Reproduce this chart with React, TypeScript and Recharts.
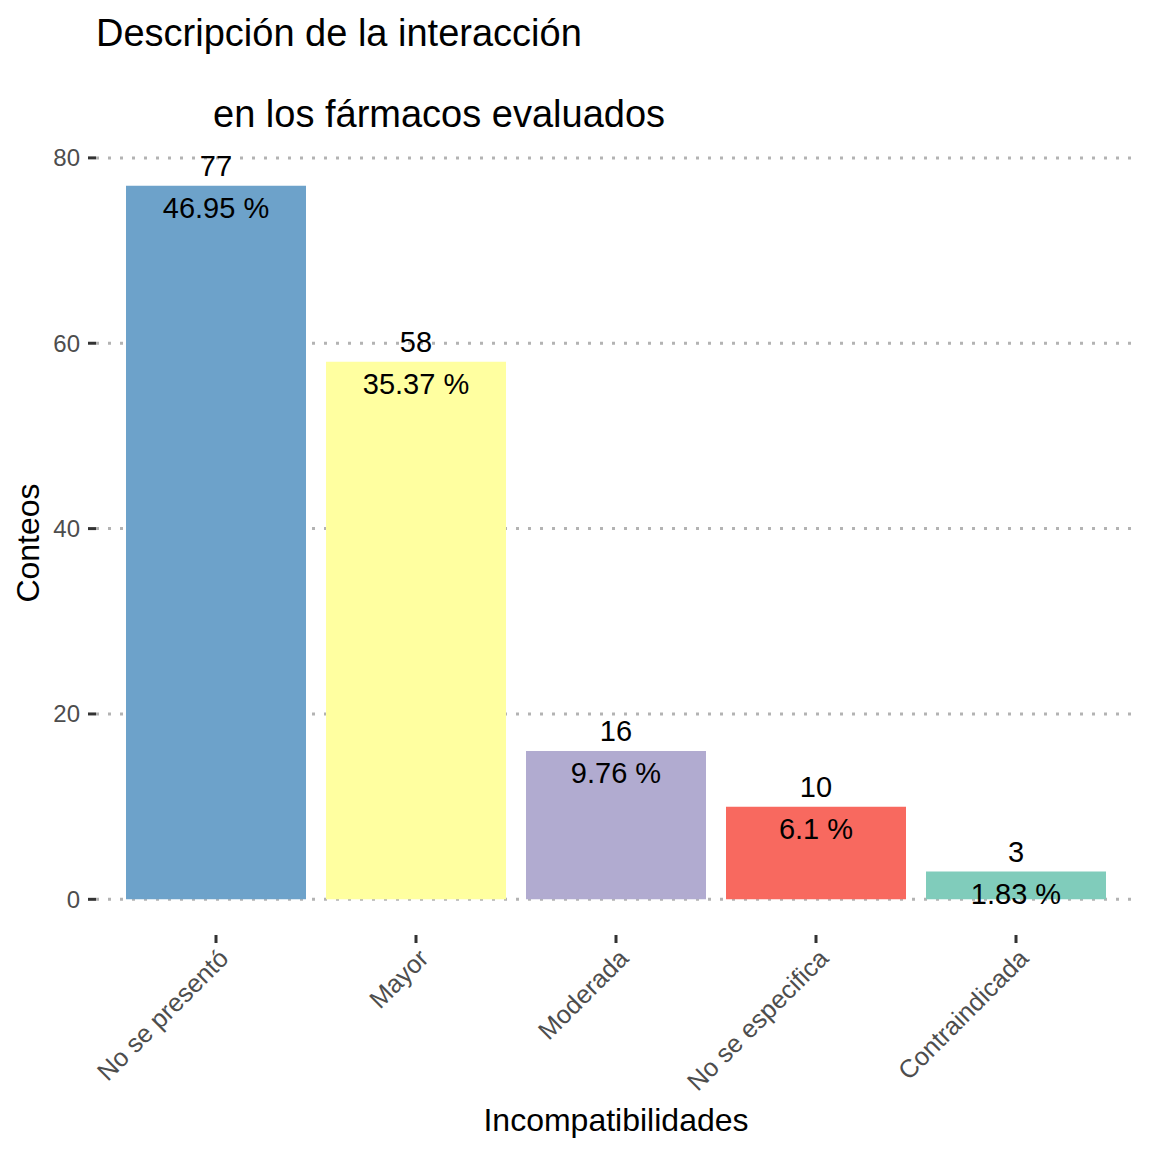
import React from "react";
import { BarChart, Bar, XAxis, YAxis, CartesianGrid, Cell, LabelList } from "recharts";

const categories = ["No se presentó", "Mayor", "Moderada", "No se especifica", "Contraindicada"];
const counts = [77, 58, 16, 10, 3];
const percents = ["46.95", "35.37", "9.76", "6.1", "1.83"];
const colors = ["#6DA2CA", "#FFFFA0", "#B1ABD0", "#F8695F", "#80CCBB"];
const yTicks = [0, 20, 40, 60, 80];

const data = categories.map((name, i) => ({ name, count: counts[i], pct: percents[i] }));

const FONT = "'Liberation Sans', Arial, Helvetica, sans-serif";

const XTick = (props: any) => {
  const { x, y, payload } = props;
  const ax = x + 14;
  const ay = y + 15;
  return (
    <text
      x={ax}
      y={ay}
      textAnchor="end"
      fontSize={25.5}
      fill="#4D4D4D"
      fontFamily={FONT}
      transform={`rotate(-45, ${ax}, ${ay})`}
    >
      {payload.value}
    </text>
  );
};

const BarLabels = (props: any) => {
  const { x, y, width, value, index } = props;
  const cx = x + width / 2;
  return (
    <g>
      <text x={cx} y={y - 10} textAnchor="middle" fontSize={29} fill="#000" fontFamily={FONT}>
        {value}
      </text>
      <text x={cx} y={y + 32} textAnchor="middle" fontSize={29} fill="#000" fontFamily={FONT}>
        {percents[index]} %
      </text>
    </g>
  );
};

export default function App() {
  return (
    <div style={{ position: "absolute", left: 0, top: 0, width: 1152, height: 1152, background: "#fff", fontFamily: FONT }}>
      <BarChart
        width={1152}
        height={1152}
        data={data}
        margin={{ top: 150, right: 16, left: 36, bottom: 67 }}
      >
        <CartesianGrid
          vertical={false}
          horizontal={true}
          horizontalValues={yTicks}
          stroke="#B3B3B3"
          strokeWidth={3}
          strokeDasharray="3 9"
        />
        <XAxis
          dataKey="name"
          interval={0}
          axisLine={false}
          tickLine={{ stroke: "#333333", strokeWidth: 3 }}
          tickSize={8}
          tickMargin={2}
          height={150}
          padding={{ left: 20, right: 20 }}
          tick={<XTick />}
        />
        <YAxis
          type="number"
          domain={[-3.85, 80.85]}
          ticks={yTicks}
          allowDataOverflow
          axisLine={false}
          tickLine={{ stroke: "#333333", strokeWidth: 3 }}
          tickSize={8}
          tickMargin={8}
          width={60}
          tick={{ fontSize: 24, fill: "#4D4D4D", fontFamily: FONT }}
        />
        <Bar dataKey="count" barSize={180} isAnimationActive={false}>
          {data.map((d, i) => (
            <Cell key={d.name} fill={colors[i]} />
          ))}
          <LabelList dataKey="count" content={<BarLabels />} />
        </Bar>
      </BarChart>
      <svg
        width={1152}
        height={1152}
        style={{ position: "absolute", left: 0, top: 0, pointerEvents: "none" }}
      >
        <text x={96} y={46} fontSize={38} fill="#000" fontFamily={FONT}>
          Descripción de la interacción
        </text>
        <text x={213} y={127} fontSize={38} fill="#000" fontFamily={FONT}>
          en los fármacos evaluados
        </text>
        <text x={616} y={1131} fontSize={32} fill="#000" textAnchor="middle" fontFamily={FONT}>
          Incompatibilidades
        </text>
        <text
          x={39}
          y={543}
          fontSize={32}
          fill="#000"
          textAnchor="middle"
          fontFamily={FONT}
          transform="rotate(-90, 39, 543)"
        >
          Conteos
        </text>
      </svg>
    </div>
  );
}
